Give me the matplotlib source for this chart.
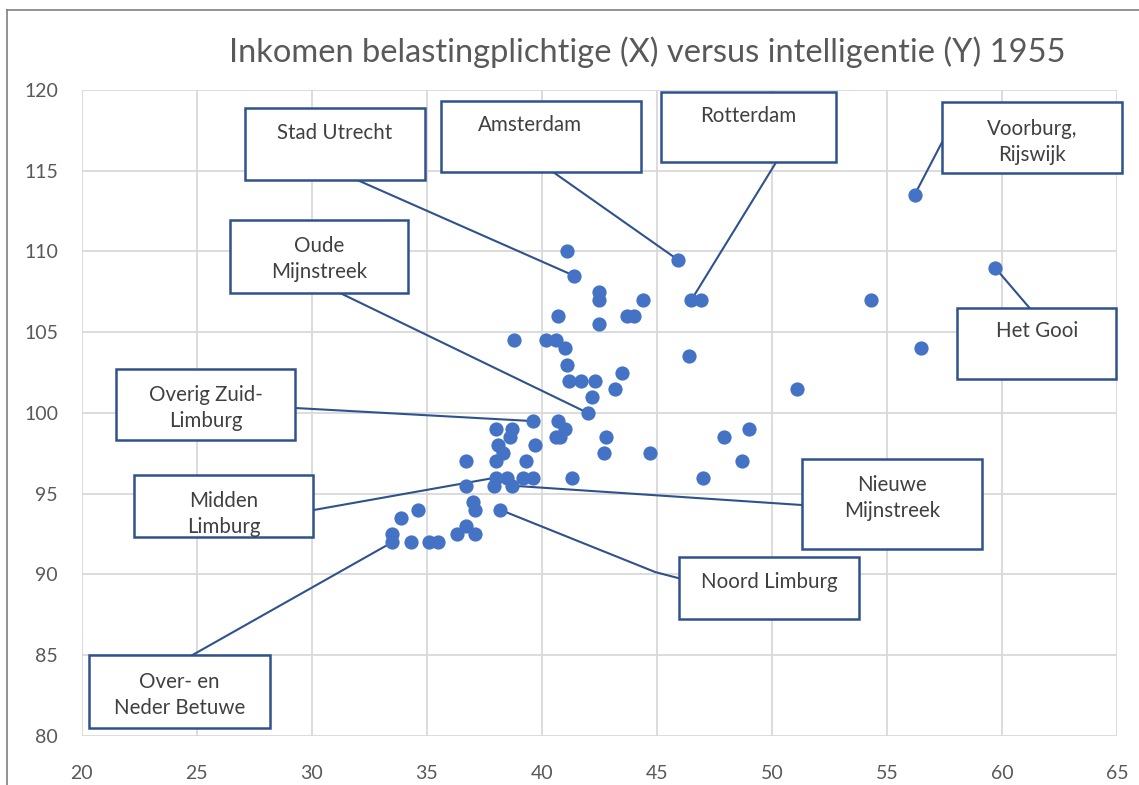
import matplotlib
matplotlib.use("Agg")
import matplotlib.pyplot as plt
from matplotlib.patches import Rectangle
from matplotlib.lines import Line2D

# ---------------- data ----------------
inkomen = [41.1, 41.4, 45.9, 42.5, 42.5, 44.4, 46.5, 46.9, 54.3, 56.2,
           59.7, 56.5, 51.1, 46.4, 40.7, 42.5, 43.7, 44.0, 38.8, 40.2,
           40.6, 41.0, 41.1, 43.5, 41.2, 41.7, 42.3, 43.2, 42.2, 42.0,
           39.6, 40.7, 41.0, 40.6, 40.8, 42.8, 38.0, 38.7, 38.6, 38.1,
           39.7, 38.3, 42.7, 44.7, 47.9, 49.0, 48.7, 36.7, 38.0, 39.3,
           38.0, 38.5, 39.2, 39.6, 41.3, 47.0, 36.7, 37.9, 38.7, 37.0,
           37.1, 38.2, 34.6, 33.9, 36.7, 36.3, 37.1, 33.5, 33.5, 34.3,
           35.1, 35.5]
intelligentie = [110.0, 108.5, 109.5, 107.5, 107.0, 107.0, 107.0, 107.0, 107.0, 113.5,
                 109.0, 104.0, 101.5, 103.5, 106.0, 105.5, 106.0, 106.0, 104.5, 104.5,
                 104.5, 104.0, 103.0, 102.5, 102.0, 102.0, 102.0, 101.5, 101.0, 100.0,
                 99.5, 99.5, 99.0, 98.5, 98.5, 98.5, 99.0, 99.0, 98.5, 98.0,
                 98.0, 97.5, 97.5, 97.5, 98.5, 99.0, 97.0, 97.0, 97.0, 97.0,
                 96.0, 96.0, 96.0, 96.0, 96.0, 96.0, 95.5, 95.5, 95.5, 94.5,
                 94.0, 94.0, 94.0, 93.5, 93.0, 92.5, 92.5, 92.5, 92.0, 92.0,
                 92.0, 92.0]

labels = ["Stad Utrecht", "Amsterdam", "Rotterdam", "Voorburg,\nRijswijk",
          "Oude\nMijnstreek", "Het Gooi", "Overig Zuid-\nLimburg",
          "Midden\nLimburg", "Nieuwe\nMijnstreek", "Noord Limburg",
          "Over- en\nNeder Betuwe"]
label_x = [41.4, 45.9, 46.5, 56.2, 42.0, 59.7, 39.6, 38.0, 38.7, 38.2, 33.5]
label_y = [108.5, 109.5, 107.0, 113.5, 100.0, 109.0, 99.5, 96.0, 95.5, 94.0, 92.0]

x_ticks = [20, 25, 30, 35, 40, 45, 50, 55, 60, 65]
y_ticks = [80, 85, 90, 95, 100, 105, 110, 115, 120]
title = "Inkomen belastingplichtige (X) versus intelligentie (Y) 1955"

# ---------------- layout of the callouts (data units) ----------------
# box: (x0, y0, x1, y1); text centre; leader start on box; optional elbow
boxes = [(27.10, 114.43, 34.93, 118.89),
         (35.62, 114.92, 44.32, 119.32),
         (45.19, 115.54, 52.79, 119.88),
         (57.40, 114.86, 65.20, 119.26),
         (26.45, 107.43, 34.19, 111.95),
         (58.06, 102.10, 64.97, 106.50),
         (21.49, 98.33, 29.27, 102.70),
         (22.28, 92.34, 30.07, 96.16),
         (51.33, 91.56, 59.13, 97.15),
         (45.98, 87.22, 53.80, 91.10),
         (20.33, 80.48, 28.19, 85.01)]
text_x = [None, 39.49, None, None, None, None, None, None, None, None, None]
text_y = [117.34, 117.83, 118.39, 116.80, 109.52, 105.08, 100.30, 93.75, 94.75, 89.55, 82.55]
lead_start = [(31.97, 114.43), (40.49, 114.92), (50.19, 115.54), (57.40, 116.78),
              (31.23, 107.43), (61.20, 106.50), (29.27, 100.31), (30.07, 93.99),
              (51.33, 94.30), (45.98, 89.76), (24.81, 85.01)]
lead_elbow = [None, None, None, None, None, None, None, None, None, (44.93, 90.15), None]

# ---------------- styling ----------------
W, H, DPI = 1139, 785, 100
marker_color = "#4472C4"
box_color = "#2F528F"
text_color = "#404040"
axis_text = "#595959"
grid_color = "#D9D9D9"
font = ["Lato", "DejaVu Sans"]

plt.rcParams["font.family"] = font

fig = plt.figure(figsize=(W / DPI, H / DPI), dpi=DPI)
ax = fig.add_axes([81.7 / W, 1 - 736 / H, (1117 - 81.7) / W, (736 - 90) / H])

ax.set_xlim(20, 65)
ax.set_ylim(80, 120)
ax.set_xticks(x_ticks)
ax.set_yticks(y_ticks)
ax.grid(True, color=grid_color, linewidth=1.3)
ax.set_axisbelow(True)
for s in ax.spines.values():
    s.set_visible(False)
ax.tick_params(length=0, labelsize=14, labelcolor=axis_text)
ax.tick_params(axis="y", pad=17)
ax.tick_params(axis="x", pad=21)

# leader lines
for i in range(len(labels)):
    sx, sy = lead_start[i]
    xs = [sx]
    ys = [sy]
    if lead_elbow[i] is not None:
        xs.append(lead_elbow[i][0])
        ys.append(lead_elbow[i][1])
    xs.append(label_x[i])
    ys.append(label_y[i])
    ax.plot(xs, ys, color=box_color, linewidth=1.5, zorder=2, clip_on=False)

ax.scatter(inkomen, intelligentie, s=105, color=marker_color, zorder=3,
           linewidths=0)

# callout boxes
for i, lab in enumerate(labels):
    x0, y0, x1, y1 = boxes[i]
    ax.add_patch(Rectangle((x0, y0), x1 - x0, y1 - y0, facecolor="white",
                           edgecolor=box_color, linewidth=1.8, zorder=4,
                           clip_on=False))
    tx = text_x[i] if text_x[i] is not None else (x0 + x1) / 2
    ax.text(tx, text_y[i], lab, ha="center", va="center",
            fontsize=14.8, color=text_color, zorder=5, linespacing=1.38)

fig.text(647 / W, 1 - 52 / H, title, ha="center", va="center",
         fontsize=23.5, color=axis_text)

# outer frame of the chart
fig.add_artist(Line2D([7 / W, 7 / W], [0, 1 - 10 / H], transform=fig.transFigure,
                      color="#808080", linewidth=1.2))
fig.add_artist(Line2D([7 / W, 1], [1 - 10 / H, 1 - 10 / H], transform=fig.transFigure,
                      color="#808080", linewidth=1.2))

fig.savefig("out.png", dpi=DPI)
